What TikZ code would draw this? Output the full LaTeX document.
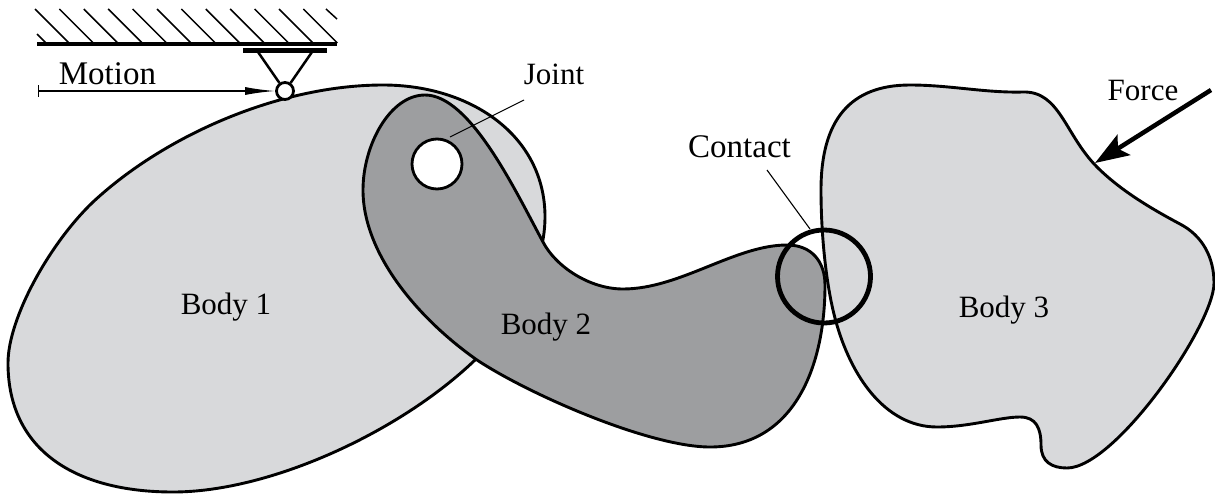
\documentclass[tikz,border=0pt]{standalone}
\usepackage{fontspec}
\setmainfont{Liberation Serif}
\usetikzlibrary{arrows.meta}
\definecolor{lightbody}{HTML}{D8D9DB}
\definecolor{darkbody}{HTML}{9D9EA0}
\tikzset{
  outline/.style={draw=black,line width=2.9pt,line join=round},
  label/.style={inner sep=0pt,anchor=base,font=\fontsize{31}{36}\selectfont},
  widelabel/.style={label,font=\fontsize{33}{38}\selectfont},
  leader/.style={draw=black,line width=1.1pt},
  hatchline/.style={draw=black,line width=1.5pt},
  pinstyle/.style={circle,draw=black,fill=white,line width=2.8pt,inner sep=0pt,minimum size=17pt},
}
\begin{document}
\begin{tikzpicture}[x=1pt,y=-1pt]
\useasboundingbox (0,0) rectangle (1215,493);
% ground
\foreach \k in {0,...,11} {\draw[hatchline] ({35+24.4*\k},9) -- ({69+24.4*\k},43);}
\draw[hatchline] (326,9) -- (337,19);
\draw[hatchline] (37,34) -- (46,43);
\draw[line width=4.5pt] (37,44) -- (337,44);
\draw[line width=4.5pt] (243,50.5) -- (327,50.5);
% body 1
\path[outline,fill=lightbody] (383,85)
 .. controls (470,85) and (545,135) .. (545,217)
 .. controls (545,270) and (510,325) .. (475,360)
 .. controls (400,432) and (270,492) .. (173,492)
 .. controls (75,492) and (8,450) .. (8,363)
 .. controls (8,318) and (50,243) .. (93,202)
 .. controls (165,135) and (280,85) .. (383,85) -- cycle;
% body 3
\path[outline,fill=lightbody] (821,190)
 .. controls (821,120) and (850,85) .. (910,85)
 .. controls (950,85) and (985,93) .. (1023,92)
 .. controls (1060,91) and (1065,135) .. (1097,167)
 .. controls (1120,190) and (1150,208) .. (1180,224)
 .. controls (1203,236) and (1214,258) .. (1214,283)
 .. controls (1214,325) and (1115,468) .. (1067,468)
 .. controls (1052,468) and (1041,462) .. (1041,445)
 .. controls (1041,428) and (1036,417) .. (1020,417)
 .. controls (1000,417) and (970,427) .. (937,427)
 .. controls (885,427) and (848,375) .. (833,310)
 .. controls (826,280) and (821,235) .. (821,190) -- cycle;
% body 2
\path[outline,fill=darkbody] (425,95)
 .. controls (470,95) and (515,190) .. (543,242)
 .. controls (556,267) and (590,289) .. (623,289)
 .. controls (680,289) and (735,245) .. (787,245)
 .. controls (812,245) and (825,262) .. (825,285)
 .. controls (825,365) and (795,447) .. (710,447)
 .. controls (650,447) and (530,395) .. (477,360)
 .. controls (420,320) and (363,255) .. (363,190)
 .. controls (363,145) and (390,95) .. (425,95) -- cycle;
% hole and leaders
\node[pinstyle,minimum size=50pt] (hole) at (437,164) {};
\coordinate (jointend) at (524,100);
\coordinate (jointstart) at (450,137);
\draw[leader] (jointend) -- (jointstart);
\node[circle,draw=black,line width=4.8pt,inner sep=0pt,minimum size=93pt] (contactring) at (824,276.5) {};
\coordinate (contactend) at (767,170);
\coordinate (contactstart) at (810,229);
\draw[leader] (contactend) -- (contactstart);
% support
\coordinate (trileft) at (258,52);
\coordinate (triright) at (312,52);
\node[pinstyle] (pin) at (285,91) {};
\draw[line width=2.5pt] (trileft) -- (pin);
\draw[line width=2.5pt] (triright) -- (pin);
% motion
\coordinate (motionstart) at (38.5,91);
\draw[line width=1.3pt] (38.5,85) -- (38.5,97);
\draw[line width=1.6pt,-{Latex[length=30pt,width=8pt]}] (motionstart) -- (pin.west);
% force
\coordinate (forcestart) at (1211,90);
\coordinate (forcetip) at (1095,163);
\draw[line width=4.5pt,-{Stealth[length=34pt,width=24pt,inset=7pt]}] (forcestart) -- (forcetip);
% labels
\node[widelabel] (motion) at (107.5,84) {Motion};
\node[label] (joint) at (554,84) {Joint};
\node[widelabel] (contact) at (739.5,157) {Contact};
\node[label] (force) at (1143,100) {Force};
\node[label] (body1) at (226,314) {Body 1};
\node[label] (body2) at (546,334) {Body 2};
\node[label] (body3) at (1004,317) {Body 3};
\end{tikzpicture}
\end{document}
